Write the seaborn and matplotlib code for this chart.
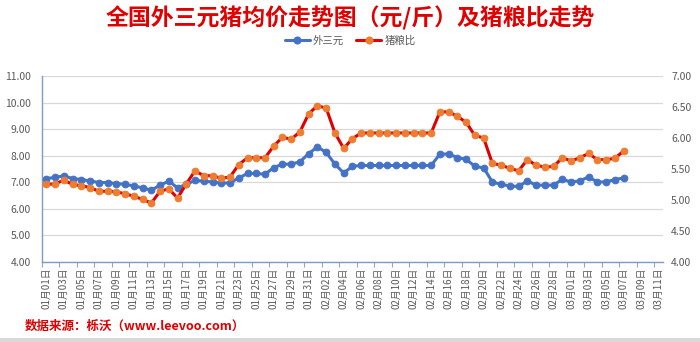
import matplotlib
matplotlib.use("Agg")
import matplotlib.pyplot as plt
import seaborn as sns
import pandas as pd
import numpy as np
from matplotlib.lines import Line2D
from matplotlib.ticker import FormatStrFormatter

# ---- data ----
dates = pd.date_range("2024-01-01", "2024-03-11", freq="D")
categories = [f"{d.month:02d}月{d.day:02d}日" for d in dates]

price_wsy = [7.14, 7.18, 7.24, 7.14, 7.10, 7.05, 6.99, 6.99, 6.95, 6.92,
             6.86, 6.79, 6.70, 6.89, 7.04, 6.79, 6.92, 7.07, 7.04, 7.01,
             6.96, 6.98, 7.16, 7.33, 7.33, 7.30, 7.55, 7.68, 7.68, 7.77,
             8.08, 8.33, 8.12, 7.68, 7.35, 7.60, 7.63, 7.63, 7.63, 7.63,
             7.63, 7.63, 7.63, 7.63, 7.63, 8.06, 8.06, 7.93, 7.86, 7.60,
             7.54, 7.01, 6.92, 6.86, 6.84, 7.05, 6.89, 6.89, 6.89, 7.11,
             7.01, 7.05, 7.20, 7.01, 7.01, 7.10, 7.16]

pig_grain = [5.25, 5.26, 5.32, 5.25, 5.23, 5.20, 5.14, 5.14, 5.13, 5.10,
             5.06, 5.01, 4.95, 5.14, 5.18, 5.03, 5.26, 5.47, 5.39, 5.39,
             5.35, 5.37, 5.57, 5.68, 5.68, 5.68, 5.87, 6.01, 5.98, 6.10,
             6.39, 6.52, 6.48, 6.08, 5.83, 5.99, 6.08, 6.08, 6.08, 6.08,
             6.08, 6.08, 6.08, 6.08, 6.08, 6.42, 6.42, 6.35, 6.25, 6.04,
             6.00, 5.59, 5.56, 5.51, 5.47, 5.65, 5.56, 5.53, 5.54, 5.68,
             5.63, 5.68, 5.75, 5.65, 5.65, 5.67, 5.79]

left_ticks = [4, 5, 6, 7, 8, 9, 10, 11]
right_ticks = [4.0, 4.5, 5.0, 5.5, 6.0, 6.5, 7.0]

title = "全国外三元猪均价走势图（元/斤）及猪粮比走势"
source = "数据来源：栎沃（www.leevoo.com）"
series_names = ["外三元", "猪粮比"]

# ---- style ----
sns.set_style("white")
plt.rcParams["font.family"] = ["Noto Sans CJK SC", "DejaVu Sans"]

BLUE = "#4472C4"
RED = "#E00000"
ORANGE = "#ED7D31"
GRAY_TXT = "#595959"

df1 = pd.DataFrame({"x": np.arange(len(price_wsy)), "y": price_wsy})
df2 = pd.DataFrame({"x": np.arange(len(pig_grain)), "y": pig_grain})

fig = plt.figure(figsize=(7.0, 3.42), dpi=100)
ax = fig.add_axes([0.06, 0.234, 0.887, 0.544])
ax2 = ax.twinx()

sns.lineplot(data=df1, x="x", y="y", ax=ax, color=BLUE, linewidth=2.2,
             marker="o", markersize=4.8, markeredgecolor=BLUE,
             markerfacecolor=BLUE, zorder=3)
sns.lineplot(data=df2, x="x", y="y", ax=ax2, color=RED, linewidth=2.2,
             marker="o", markersize=4.8, markeredgecolor=ORANGE,
             markerfacecolor=ORANGE, zorder=3)

# left axis
ax.set_ylim(min(left_ticks), max(left_ticks))
ax.set_yticks(left_ticks)
ax.yaxis.set_major_formatter(FormatStrFormatter("%.2f"))
ax.grid(axis="y", color="#D9D9D9", linewidth=0.9)
ax.set_xlabel("")
ax.set_ylabel("")

# right axis
ax2.set_ylim(min(right_ticks), max(right_ticks))
ax2.set_yticks(right_ticks)
ax2.yaxis.set_major_formatter(FormatStrFormatter("%.2f"))
ax2.set_ylabel("")
ax2.grid(False)

# x axis
ax.set_xlim(-0.5, len(categories) - 0.5)
idx = np.arange(0, len(categories), 2)
ax.set_xticks(idx)
ax.set_xticklabels([categories[i] for i in idx], rotation=90,
                   fontsize=7, color=GRAY_TXT)
ax.set_xticks(np.arange(-0.5, len(categories), 2), minor=True)
ax.tick_params(axis="x", which="major", length=0, pad=4)
ax.tick_params(axis="x", which="minor", length=3.5, color="#8EA9C8",
               width=0.8, direction="out", bottom=True)
ax.tick_params(axis="y", which="major", length=0, labelsize=7.5,
               labelcolor=GRAY_TXT, pad=8)
ax2.tick_params(axis="y", which="major", length=0, labelsize=7.5,
                labelcolor=GRAY_TXT, pad=6)

for a in (ax, ax2):
    for s in ("top", "right", "left", "bottom"):
        a.spines[s].set_visible(False)
ax.spines["left"].set_visible(True)
ax.spines["left"].set_color("#7F9CC4")
ax.spines["left"].set_linewidth(1.0)
ax.spines["bottom"].set_visible(True)
ax.spines["bottom"].set_color("#7F9CC4")
ax.spines["bottom"].set_linewidth(1.0)

# title
fig.text(0.5, 0.945, title, ha="center", va="center", fontsize=16.5,
         fontweight="bold", color=RED)

# legend
handles = [
    Line2D([0], [0], color=BLUE, lw=2.2, marker="o", markersize=4.8,
           markerfacecolor=BLUE, markeredgecolor=BLUE),
    Line2D([0], [0], color=RED, lw=2.2, marker="o", markersize=4.8,
           markerfacecolor=ORANGE, markeredgecolor=ORANGE),
]
leg = fig.legend(handles, series_names, loc="center", ncol=2,
                 bbox_to_anchor=(0.5, 0.882), frameon=False, fontsize=7.5,
                 handlelength=2.4, columnspacing=1.2, handletextpad=0.3)
for t in leg.get_texts():
    t.set_color(GRAY_TXT)

# source
fig.text(0.035, 0.045, source, ha="left", va="center", fontsize=9,
         fontweight="bold", color=RED)

# bottom border band
fig.add_artist(plt.Rectangle((0, 0), 1, 0.012, transform=fig.transFigure,
                             color="#D9D9D9", lw=0))

fig.savefig("out.png", dpi=100, facecolor="white")
